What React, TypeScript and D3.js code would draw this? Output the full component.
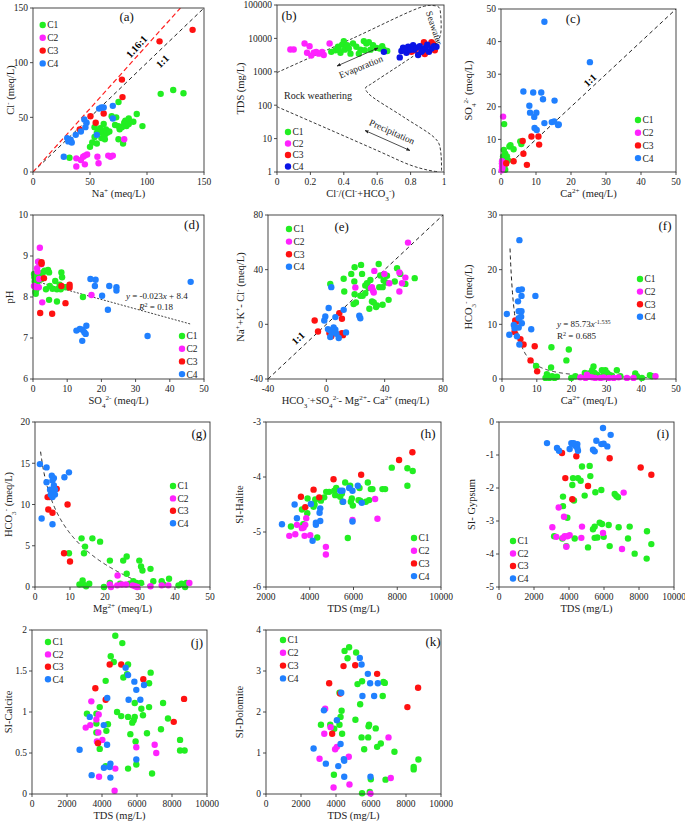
import React from "react";
import * as d3 from "d3";

type Pt = [number, number];
type Seg = [string, string?];

const FONT = "Liberation Serif, Times New Roman, serif";
const GROUPS = ["C1", "C2", "C3", "C4"];
const COLS = ["#22EE22", "#FF22FF", "#FF1111", "#2080FF"];
const COLS_B = ["#22EE22", "#FF22FF", "#FF1111", "#0A14E6"];

// ---------- (a) Na vs Cl ----------
const aC1: Pt[] = [[32,13],[50,23],[52,27],[54,32],[54,41],[56,36],[56,26],[58,37],[59,40],[60,31],[61,36],[62,44],[63,34],[64,39],[65,36],[67,37],[69,51],[72,43],[73,50],[75,42],[75,64],[75,30],[76,39],[78,41],[79,26],[80,45],[81,47],[82,42],[84,44],[84,49],[88,46],[91,53],[96,42],[112,71.5],[123,75],[132,72],[63,30]];
const aC2: Pt[] = [[38,12.5],[38,5],[42,11],[44,14],[45.5,15],[47.5,16],[45.5,7],[56.5,14],[57.5,8],[66,15],[68,14],[70,15],[80,30]];
const aC3: Pt[] = [[41,39],[50.4,51],[55,45],[62,53.5],[78,84.5],[78.5,68.5],[111,119.5],[140,130]];
const aC4: Pt[] = [[27,14],[30,31],[31,28],[33,29.5],[34,27],[37.5,34],[42,37],[45,48],[46,41],[47,45],[56,34],[58,58],[60,59],[62,59],[70,60.5],[70,49]];

// ---------- (b) Gibbs ----------
const bC1: Pt[] = [[0.325,3950],[0.35,4400],[0.365,5600],[0.38,3700],[0.39,6500],[0.40,8300],[0.405,4600],[0.42,6300],[0.43,5000],[0.44,3500],[0.455,7000],[0.475,5600],[0.50,4600],[0.52,8300],[0.525,4400],[0.535,7000],[0.55,7700],[0.56,4600],[0.575,6300],[0.595,5200],[0.615,5000],[0.63,5800],[0.64,4600],[0.66,4200],[0.37,4600],[0.49,3500]];
const bC2: Pt[] = [[0.08,4650],[0.10,4650],[0.165,7030],[0.195,5800],[0.18,3700],[0.205,3050],[0.22,3700],[0.235,3900],[0.27,3900],[0.28,3200],[0.315,7000],[0.25,3500]];
const bC3: Pt[] = [[0.805,3950],[0.825,4400],[0.865,4400],[0.88,7700],[0.885,3400],[0.925,7700],[0.935,6700],[0.945,4400]];
const bC4: Pt[] = [[0.64,3950],[0.735,2700],[0.745,4200],[0.755,5300],[0.775,3700],[0.785,5600],[0.795,4500],[0.815,6300],[0.82,4600],[0.835,5300],[0.845,3200],[0.855,5800],[0.875,4500],[0.89,5300],[0.90,6500],[0.91,3950],[0.925,5000],[0.94,5800],[0.955,5600],[0.765,4600],[0.865,3950]];
const gibbsUpper: Pt[] = [[0,950],[0.45,9860],[0.875,90000],[0.93,97000],[0.97,85000],[0.98,50000],[0.98,14000],[0.965,8800],[0.94,7500],[0.74,1640],[0.56,420],[0.53,330],[0.545,230],[0.75,47],[0.94,11],[0.97,7],[0.983,3],[0.985,1]];
const gibbsLower: Pt[] = [[0,90],[0.3,20],[0.6,4.4],[0.8,1.6],[0.9,1.15],[0.97,1.0]];

// ---------- (c) Ca vs SO4 ----------
const cC1: Pt[] = [[0.9,14.7],[0.8,6.8],[1.2,5.6],[0.6,4.8],[1.7,4.8],[2.4,7.8],[2.7,8.2],[3.6,7.0],[5.5,9.4],[5.8,8.6],[0.5,1.7],[1.0,3.3],[1.4,4.0],[1.2,0.7],[0.3,2.5],[0.8,2.2],[2.0,3.6],[0.5,3.8]];
const cC2: Pt[] = [[0.6,17.0],[0.3,2.7],[0.3,1.7],[0.4,1.2],[0.2,0.5],[0.5,2.2],[0.3,3.3]];
const cC3: Pt[] = [[8.7,10.9],[10.7,10.9],[10.9,8.4],[6.2,9.5],[6.4,5.6],[3.6,3.3],[7.4,2.2],[1.5,2.7]];
const cC4: Pt[] = [[12.4,46.1],[25.4,33.7],[6.4,24.7],[9.2,24.4],[11.5,24.4],[12.0,22.3],[15.3,21.9],[8.1,20.3],[8.3,18.2],[10.1,18.2],[9.5,16.9],[9.6,13.5],[10.2,12.9],[12.4,15.0],[14.5,15.3],[15.2,15.5],[16.5,14.6],[16.3,14.4]];

// ---------- (d) SO4 vs pH ----------
const dC1: Pt[] = [[0.3,8.56],[0.4,8.48],[0.5,8.38],[0.6,8.26],[0.7,8.13],[0.8,8.08],[1.0,8.19],[1.2,8.34],[1.4,8.43],[1.6,8.86],[2.0,8.54],[2.4,8.43],[2.9,8.60],[3.4,8.64],[3.8,8.19],[4.4,8.66],[4.7,8.60],[4.9,8.27],[4.7,7.93],[5.7,8.20],[6.5,8.39],[7.0,7.89],[7.0,8.19],[7.8,8.30],[8.1,8.19],[8.3,8.60],[8.5,8.48],[9.3,8.24],[14.6,8.0],[9.8,8.24]];
const dC2: Pt[] = [[2.0,9.20],[1.5,8.86],[1.2,8.70],[1.3,8.62],[2.4,8.80],[0.3,8.27],[1.0,8.24],[1.7,8.24],[2.7,7.87],[17.1,8.05],[1.8,8.44]];
const dC3: Pt[] = [[2.5,8.85],[2.5,8.81],[3.2,8.46],[2.1,7.61],[5.6,7.59],[8.3,8.27],[9.5,7.85],[10.7,8.30],[10.7,8.23]];
const dC4: Pt[] = [[16.8,8.44],[18.3,8.42],[18.1,8.27],[20.2,8.03],[22.3,8.27],[24.4,8.24],[24.4,8.16],[21.9,7.69],[15.6,7.30],[12.7,7.18],[13.7,7.22],[14.5,7.20],[15.0,7.14],[15.4,7.10],[14.4,6.93],[33.5,7.05],[46.1,8.37]];
const dSlope = -0.023, dIntercept = 8.4, dXmax = 46;

// ---------- (e) ----------
const eC1: Pt[] = [[2.7,29.6],[11.9,33.3],[12.3,24.0],[17.1,36.9],[19.4,41.8],[19.2,31.3],[19.4,22.1],[18.7,14.8],[20.3,16.0],[23.3,20.9],[23.8,43.5],[24.5,36.9],[24.9,20.9],[26.7,28.4],[27.9,30.1],[29.0,26.5],[29.5,11.4],[30.2,32.5],[31.3,16.7],[32.5,16.0],[34.1,12.6],[34.7,13.8],[35.9,44.2],[36.3,27.2],[37.0,35.7],[38.6,27.2],[38.6,14.3],[39.3,32.1],[40.9,30.6],[41.6,35.5],[42.7,17.9],[46.9,31.3],[48.5,41.1],[50.7,36.9],[54.2,29.6],[60.6,33.8],[26.7,22.8]];
const eC2: Pt[] = [[56.0,59.8],[19.9,26.9],[32.9,39.1],[31.3,27.2],[32.0,24.8],[32.5,23.3],[30.6,26.5],[39.8,36.9],[43.2,30.1],[50.1,37.9],[50.1,24.0],[51.9,30.1],[54.2,34.2]];
const eC3: Pt[] = [[-8.0,2.8],[-5.7,-5.2],[2.1,-6.4],[3.4,-8.8],[8.9,8.2],[10.7,4.1],[10.7,-6.4],[11.4,-7.9]];
const eC4: Pt[] = [[3.4,27.2],[1.6,11.9],[-0.7,5.8],[-1.4,2.8],[6.2,5.3],[11.9,10.6],[22.6,6.3],[23.3,4.5],[1.1,-3.5],[2.7,-4.5],[5.0,-2.3],[4.6,-5.2],[6.2,-4.0],[3.9,-5.9],[2.7,-9.3],[8.5,-10.0],[13.5,-5.9],[6.9,-6.9]];

// ---------- (f) Ca vs HCO3 ----------
const fC1: Pt[] = [[9.8,2.4],[14.2,5.8],[19.2,5.4],[18.5,3.4],[14.1,2.1],[12.9,0.9],[13.2,0.5],[13.6,0.2],[14.4,0.5],[15.1,0.2],[15.8,0.4],[12.5,0.2],[19.9,0.2],[21.1,0.5],[23.8,1.1],[24.9,1.0],[25.9,1.6],[26.3,2.3],[26.6,1.1],[27.3,0.8],[28.7,1.6],[29.2,1.2],[29.7,1.6],[30.2,1.1],[30.8,0.8],[33.0,1.6],[38.3,1.0],[38.8,0.5],[40.2,0.2],[43.1,0.5],[31.6,0.6],[34.0,0.5],[27.8,0.4],[42.5,0.7]];
const fC2: Pt[] = [[22.5,0.3],[24.0,0.2],[24.9,0.4],[25.9,0.3],[26.8,0.2],[28.3,0.2],[29.2,0.3],[30.7,0.2],[32.1,0.2],[33.5,0.3],[35.9,0.2],[37.8,0.2],[44.1,0.5],[24.4,0.8]];
const fC3: Pt[] = [[3.8,10.7],[4.3,10.5],[3.6,8.6],[5.3,7.3],[6.2,6.3],[9.4,6.0],[8.2,3.4],[10.1,1.4]];
const fC4: Pt[] = [[5.0,25.4],[1.4,11.9],[2.1,8.1],[3.4,9.9],[3.6,9.3],[4.3,7.8],[4.6,14.2],[4.8,16.3],[5.7,16.4],[5.6,15.2],[4.8,12.4],[5.6,12.4],[5.5,11.4],[5.7,10.2],[4.8,11.1],[4.8,9.4],[5.0,6.3],[8.4,9.1],[9.6,15.2]];
const fA = 85.73, fB = -1.535, fXmin = 2.3, fXmax = 44;

// ---------- (g) Mg vs HCO3 ----------
const gC1: Pt[] = [[9.7,4.1],[13.3,5.9],[14.3,4.9],[14.0,4.1],[16.4,5.9],[18.6,5.5],[21.4,3.2],[25.2,3.2],[26.2,3.7],[26.2,1.6],[29.8,3.2],[30.3,2.5],[30.7,2.0],[33.0,2.2],[12.7,0.3],[13.6,0.8],[13.8,0.3],[14.6,0.1],[15.5,0.4],[19.7,0.0],[21.4,0.5],[24.3,0.4],[27.1,0.4],[29.0,0.5],[30.3,0.5],[33.8,0.7],[36.2,0.7],[38.3,1.0],[36.7,0.3],[41.0,0.2],[41.9,0.4],[42.9,0.0],[43.3,0.5],[28.1,0.7]];
const gC2: Pt[] = [[23.6,1.4],[21.4,0.3],[21.7,0.0],[23.5,0.2],[24.8,0.3],[26.0,0.3],[27.9,0.2],[28.6,0.1],[29.2,0.0],[33.0,0.1],[36.2,0.2],[38.1,0.2],[44.1,0.5]];
const gC3: Pt[] = [[3.6,10.9],[3.8,9.4],[5.0,9.0],[6.2,11.9],[9.3,10.0],[8.3,4.1],[10.0,3.1],[4.1,10.9]];
const gC4: Pt[] = [[1.4,14.9],[3.3,14.5],[3.3,12.7],[1.9,8.3],[4.3,11.8],[4.8,13.5],[5.0,12.9],[5.4,13.2],[5.4,12.3],[5.7,11.8],[5.2,11.4],[5.7,11.2],[5.0,10.9],[5.0,7.6],[8.4,13.3],[9.7,13.9],[4.5,11.2]];
const gA = 18.94, gB = -5.4, gXmin = 1.6, gXmax = 33.3;

// ---------- (h) TDS vs SI-Halite ----------
const hC1: Pt[] = [[3141,-4.90],[3643,-4.59],[3703,-4.86],[3901,-4.39],[3886,-4.66],[4175,-4.54],[4221,-4.50],[4251,-4.41],[4342,-5.10],[4510,-4.43],[4662,-4.37],[4753,-4.27],[4890,-4.27],[5118,-4.25],[5209,-4.20],[5163,-4.33],[5392,-4.36],[5468,-4.30],[5498,-4.45],[5620,-4.10],[5741,-5.11],[5848,-4.16],[5878,-4.45],[5924,-4.39],[5970,-4.52],[6228,-4.42],[6274,-4.20],[6304,-4.43],[6563,-4.45],[6654,-4.10],[6715,-4.42],[6791,-4.22],[6867,-4.22],[7323,-4.22],[7445,-4.22],[7749,-3.83],[8464,-3.84],[8464,-4.16],[8707,-3.89]];
const hC2: Pt[] = [[3065,-5.07],[3338,-5.04],[3414,-4.87],[3643,-4.93],[3719,-4.92],[3764,-5.07],[3795,-4.87],[3840,-4.75],[4023,-5.06],[4738,-5.27],[4738,-5.41],[5954,-4.78],[6988,-4.40],[7095,-4.76]];
const hC3: Pt[] = [[3597,-4.36],[3795,-4.55],[4175,-4.23],[4434,-4.37],[5087,-4.04],[6350,-3.96],[8084,-3.69],[8692,-3.55]];
const hC4: Pt[] = [[2730,-4.86],[3308,-4.50],[3414,-4.75],[4053,-4.49],[4129,-5.16],[4281,-4.83],[4281,-4.87],[4449,-4.65],[4480,-4.57],[4480,-4.80],[5392,-4.25],[5498,-4.25],[5528,-4.45],[5802,-4.20],[5954,-4.25],[5954,-4.81],[6197,-4.16],[6380,-4.47]];

// ---------- (i) TDS vs SI-Gypsum ----------
const iC1: Pt[] = [[4743,-1.35],[5181,-1.33],[5219,-1.64],[4229,-1.70],[4514,-1.70],[4667,-1.78],[4190,-1.91],[5848,-2.06],[5505,-2.13],[4895,-2.23],[4286,-2.38],[3657,-2.26],[3657,-2.55],[3905,-2.90],[6610,-2.18],[6705,-2.24],[6800,-2.28],[5752,-3.05],[5886,-3.09],[6267,-3.12],[5467,-3.17],[5371,-3.25],[6838,-3.19],[7467,-3.17],[8457,-3.31],[3150,-3.46],[3619,-3.53],[4324,-3.53],[5467,-3.51],[5619,-3.50],[5981,-3.48],[7371,-3.53],[3848,-3.76],[5086,-3.80],[6324,-3.76],[7752,-3.99],[8705,-3.70],[8438,-4.14]];
const iC2: Pt[] = [[3048,-3.19],[3276,-3.48],[3410,-2.59],[3714,-2.87],[3657,-3.51],[3752,-3.46],[3905,-3.46],[4038,-3.43],[4743,-3.17],[4705,-3.51],[3848,-3.78],[5943,-3.36],[7029,-3.85],[7124,-2.14]];
const iC3: Pt[] = [[3600,-0.94],[4419,-1.04],[6324,-1.10],[8095,-1.38],[8705,-1.60],[3790,-1.70],[5086,-1.94],[4190,-2.34]];
const iC4: Pt[] = [[2743,-0.64],[3314,-0.79],[3429,-0.87],[4038,-0.82],[4133,-0.64],[4267,-0.64],[4362,-0.72],[4476,-0.67],[4476,-0.79],[4514,-0.87],[5371,-0.84],[5467,-0.89],[5562,-0.57],[5848,-0.67],[5981,-0.66],[5943,-0.18],[6190,-0.74],[6381,-0.39],[4190,-0.66]];

// ---------- (j) TDS vs SI-Calcite ----------
const jC1: Pt[] = [[4760,1.93],[5160,1.84],[4500,1.68],[4670,1.61],[5490,1.58],[5430,1.46],[5220,1.42],[4210,1.38],[6780,1.48],[6690,1.35],[3870,1.06],[3140,0.98],[3680,0.98],[3680,0.86],[3680,0.75],[4340,0.85],[4860,1.00],[5100,0.95],[4250,0.77],[3870,0.55],[4210,0.34],[5490,0.94],[5870,0.94],[5810,0.90],[5730,0.87],[5620,0.73],[5870,1.11],[6250,1.04],[6340,0.96],[6690,1.06],[6570,0.74],[5920,0.64],[5960,0.36],[5490,0.31],[6860,0.25],[7490,1.11],[7770,0.92],[7370,0.79],[8460,0.66],[8460,0.53],[8720,0.53]];
const jC2: Pt[] = [[3390,1.13],[3070,0.81],[3330,0.84],[3680,0.91],[3810,0.97],[3790,0.75],[3710,0.64],[4020,0.66],[3830,0.21],[4760,0.31],[4720,0.04],[5960,0.57],[7010,0.60],[7100,0.50]];
const jC3: Pt[] = [[3620,1.29],[4210,1.15],[4440,1.58],[5100,1.58],[6360,1.40],[8690,1.16],[8100,0.88],[3770,0.62]];
const jC4: Pt[] = [[5350,1.54],[5490,1.45],[5850,1.37],[5960,1.27],[6400,1.33],[6190,1.15],[5520,1.15],[4300,1.17],[4100,0.84],[3300,0.94],[2720,0.54],[4290,0.60],[5960,0.42],[4480,0.37],[4440,0.33],[4110,0.32],[3410,0.23],[4480,0.20]];

// ---------- (k) TDS vs SI-Dolomite ----------
const kC1: Pt[] = [[4750,3.58],[4490,3.49],[5150,3.45],[4660,3.31],[5490,2.75],[5230,2.68],[6710,2.73],[6790,2.71],[6670,2.39],[5380,2.19],[4320,2.03],[4260,1.88],[5110,1.81],[4200,1.69],[3140,1.69],[3670,1.69],[3900,1.59],[5890,1.69],[5860,1.65],[6270,1.60],[4350,1.47],[5460,1.38],[5840,1.38],[6560,1.23],[6350,1.15],[5610,1.09],[7340,1.03],[3880,0.47],[5990,0.36],[6830,0.35],[8440,0.66],[8440,0.60],[8710,0.84],[5490,0.02],[5930,0.05],[4200,2.47]];
const kC2: Pt[] = [[3380,2.08],[3690,1.63],[3330,1.47],[3950,1.09],[4050,1.15],[4730,0.91],[3060,0.86],[7000,1.38],[7130,0.39],[3860,0.16],[4770,0.23],[5970,0.01]];
const kC3: Pt[] = [[3610,2.70],[4240,2.45],[4430,3.12],[5100,3.14],[6350,2.93],[8690,2.59],[8080,2.12],[3780,1.47]];
const kC4: Pt[] = [[5360,3.32],[5460,3.16],[5820,2.93],[5950,2.70],[6390,2.70],[6180,2.39],[5510,2.39],[4300,2.47],[3310,2.04],[4050,1.80],[4260,1.22],[2720,1.11],[3420,0.74],[4130,0.68],[4450,0.85],[4470,0.81],[4470,0.42],[5970,0.42]];

// ---------- tick labels ----------
const t0_150 = [0, 50, 100, 150];
const t0_50 = [0, 10, 20, 30, 40, 50];
const tB_x = [0, 0.2, 0.4, 0.6, 0.8, 1];
const tB_y = [1, 10, 100, 1000, 10000, 100000];
const tD_y = [6, 7, 8, 9, 10];
const tE = [-40, 0, 40, 80];
const tF_y = [0, 10, 20, 30];
const tG_y = [0, 5, 10, 15, 20];
const tTDS_h = [2000, 4000, 6000, 8000, 10000];
const tTDS = [0, 2000, 4000, 6000, 8000, 10000];
const tH_y = [-6, -5, -4, -3];
const tI_y = [-5, -4, -3, -2, -1, 0];
const tJ_y = [0, 0.5, 1, 1.5, 2];
const tK_y = [0, 1, 2, 3, 4];

const R = 3.2;

function Rich({ segs }: { segs: Seg[] }) {
  return (
    <>
      {segs.map((s, i) =>
        s[1] === "sup" ? (
          <tspan key={i} baselineShift="super" fontSize="68%">{s[0]}</tspan>
        ) : s[1] === "sub" ? (
          <tspan key={i} baselineShift="sub" fontSize="68%">{s[0]}</tspan>
        ) : s[1] === "i" ? (
          <tspan key={i} fontStyle="italic">{s[0]}</tspan>
        ) : (
          <tspan key={i}>{s[0]}</tspan>
        )
      )}
    </>
  );
}

type Box = { l: number; t: number; r: number; b: number };

function Panel(props: {
  box: Box; xDom: [number, number]; yDom: [number, number]; yLog?: boolean;
  xTicks: number[]; yTicks: number[]; series: Pt[][]; colors?: string[];
  xLabel: Seg[]; yLabel: Seg[]; yLabelX: number; letter: string; letterPos: [number, number];
  legend: { x: number; y: number; dy: number };
  under?: (x: any, y: any) => React.ReactNode; over?: (x: any, y: any) => React.ReactNode;
  id: string;
}) {
  const { box, xDom, yDom, yLog, xTicks, yTicks, series, xLabel, yLabel, yLabelX, letter, letterPos, legend, under, over, id } = props;
  const colors = props.colors || COLS;
  const x = d3.scaleLinear().domain(xDom).range([box.l, box.r]);
  const y: any = yLog ? d3.scaleLog().domain(yDom).range([box.b, box.t]) : d3.scaleLinear().domain(yDom).range([box.b, box.t]);
  const cx = (box.l + box.r) / 2, cy = (box.t + box.b) / 2;
  return (
    <g fontFamily={FONT}>
      <defs>
        <clipPath id={"clip-" + id}>
          <rect x={box.l} y={box.t} width={box.r - box.l} height={box.b - box.t} />
        </clipPath>
      </defs>
      {xTicks.map((v) => (
        <g key={"xt" + v}>
          <line x1={x(v)} x2={x(v)} y1={box.b} y2={box.b + 3} stroke="#222" strokeWidth={0.8} />
          <text x={x(v)} y={box.b + 13} fontSize={9.5} textAnchor="middle" fill="#222">{String(v)}</text>
        </g>
      ))}
      {yTicks.map((v) => (
        <g key={"yt" + v}>
          <line x1={box.l - 3} x2={box.l} y1={y(v)} y2={y(v)} stroke="#222" strokeWidth={0.8} />
          <text x={box.l - 5} y={y(v) + 3.3} fontSize={9.5} textAnchor="end" fill="#222">{String(v)}</text>
        </g>
      ))}
      <g clipPath={`url(#clip-${id})`}>{under && under(x, y)}</g>
      {series.map((pts, gi) =>
        pts.map((p, i) => <circle key={gi + "-" + i} cx={x(p[0])} cy={y(p[1])} r={R} fill={colors[gi]} />)
      )}
      {over && over(x, y)}
      <rect x={box.l} y={box.t} width={box.r - box.l} height={box.b - box.t} fill="none" stroke="#333" strokeWidth={0.9} />
      {GROUPS.map((g, gi) => (
        <g key={g}>
          <circle cx={legend.x} cy={legend.y + gi * legend.dy} r={R} fill={colors[gi]} />
          <text x={legend.x + 4.5} y={legend.y + gi * legend.dy + 3.4} fontSize={9.5} fill="#222">{g}</text>
        </g>
      ))}
      <text x={letterPos[0]} y={letterPos[1] + 4.5} fontSize={13} textAnchor="middle" fill="#111">{letter}</text>
      <text x={cx} y={box.b + 25} fontSize={10.5} textAnchor="middle" fill="#222"><Rich segs={xLabel} /></text>
      <text transform={`translate(${yLabelX},${cy}) rotate(-90)`} x={0} y={3.5} fontSize={10.5} textAnchor="middle" fill="#222"><Rich segs={yLabel} /></text>
    </g>
  );
}

function angleOf(x: any, y: any, p0: Pt, p1: Pt) {
  return (Math.atan2(y(p1[1]) - y(p0[1]), x(p1[0]) - x(p0[0])) * 180) / Math.PI;
}

export default function App() {
  const unitLabel: Seg[] = [[" (meq/L)"]];
  const tdsLabel: Seg[] = [["TDS (mg/L)"]];
  const hco3: Seg[] = [["HCO"], ["3", "sub"], ["-", "sup"], [" (meq/L)"]];
  const ca: Seg[] = [["Ca"], ["2+", "sup"], [" (meq/L)"]];
  const so4: Seg[] = [["SO"], ["4", "sub"], ["2-", "sup"], [" (meq/L)"]];
  const lineGen = (x: any, y: any) => d3.line<Pt>().x((d) => x(d[0])).y((d) => y(d[1]));
  return (
    <svg width={685} height={821} fontFamily={FONT} style={{ position: "absolute", left: 0, top: 0, background: "#fff" }}>
      <defs>
        <marker id="arr" viewBox="0 0 10 10" refX={9} refY={5} markerWidth={5} markerHeight={5} orient="auto-start-reverse">
          <path d="M0,1 L10,5 L0,9 z" fill="#222" />
        </marker>
      </defs>
      <rect width={685} height={821} fill="#fff" />

      {/* (a) */}
      <Panel id="a" box={{ l: 33, t: 8, r: 204, b: 172 }} xDom={[0, 150]} yDom={[0, 150]} xTicks={t0_150} yTicks={t0_150}
        series={[aC1, aC2, aC3, aC4]} xLabel={[["Na"], ["+", "sup"], ...unitLabel]} yLabel={[["Cl"], ["-", "sup"], ...unitLabel]}
        yLabelX={10} letter="(a)" letterPos={[126.7, 16.7]} legend={{ x: 42.7, y: 25, dy: 12.8 }}
        under={(x, y) => (
          <>
            <line x1={x(0)} y1={y(0)} x2={x(150)} y2={y(150)} stroke="#222" strokeWidth={1} strokeDasharray="4,3" />
            <line x1={x(0)} y1={y(0)} x2={x(150 / 1.16)} y2={y(150)} stroke="#FF2020" strokeWidth={1.2} strokeDasharray="5,3" />
          </>
        )}
        over={(x, y) => (
          <>
            <text transform={`translate(${x(90.8)},${y(114.7)}) rotate(${angleOf(x, y, [0, 0], [100, 116])})`} fontSize={10} fontWeight="bold" textAnchor="middle" y={3.5}>1.16:1</text>
            <text transform={`translate(${x(113.4)},${y(101.3)}) rotate(${angleOf(x, y, [0, 0], [100, 100])})`} fontSize={10} fontWeight="bold" textAnchor="middle" y={3.5}>1:1</text>
          </>
        )}
      />

      {/* (b) */}
      <Panel id="b" box={{ l: 277, t: 5, r: 444, b: 172 }} xDom={[0, 1]} yDom={[1, 100000]} yLog xTicks={tB_x} yTicks={tB_y}
        series={[bC1, bC2, bC3, bC4]} colors={COLS_B}
        xLabel={[["Cl"], ["-", "sup"], ["/(Cl"], ["-", "sup"], ["+HCO"], ["3", "sub"], ["-", "sup"], [")"]]} yLabel={tdsLabel}
        yLabelX={240} letter="(b)" letterPos={[289, 15]} legend={{ x: 288, y: 132, dy: 11.5 }}
        under={(x, y) => {
          const lg = d3.line<Pt>().x((d) => x(d[0])).y((d) => y(d[1])).curve(d3.curveCatmullRom.alpha(0.5));
          return (
            <>
              <path d={lg(gibbsUpper) || ""} fill="none" stroke="#222" strokeWidth={0.9} strokeDasharray="3,2" />
              <path d={lg(gibbsLower) || ""} fill="none" stroke="#222" strokeWidth={0.9} strokeDasharray="3,2" />
            </>
          );
        }}
        over={() => (
          <g fontSize={9.5} fill="#222">
            <text transform="translate(434,28) rotate(72)" textAnchor="middle" y={3}>Seawater</text>
            <line x1={337} y1={66} x2={378} y2={48} stroke="#222" strokeWidth={0.8} markerStart="url(#arr)" markerEnd="url(#arr)" />
            <text transform="translate(361,67) rotate(-22)" textAnchor="middle" y={3}>Evaporation</text>
            <text x={318} y={99} textAnchor="middle" fontSize={10}>Rock weathering</text>
            <line x1={365} y1={130.5} x2={410} y2={150.5} stroke="#222" strokeWidth={0.8} markerStart="url(#arr)" markerEnd="url(#arr)" />
            <text transform="translate(392,132) rotate(24)" textAnchor="middle" y={3}>Precipitation</text>
          </g>
        )}
      />

      {/* (c) */}
      <Panel id="c" box={{ l: 501, t: 9, r: 676, b: 172 }} xDom={[0, 50]} yDom={[0, 50]} xTicks={t0_50} yTicks={t0_50}
        series={[cC1, cC2, cC3, cC4]} xLabel={ca} yLabel={so4}
        yLabelX={468} letter="(c)" letterPos={[573, 18]} legend={{ x: 638, y: 120, dy: 12.7 }}
        under={(x, y) => <line x1={x(0)} y1={y(0)} x2={x(50)} y2={y(50)} stroke="#222" strokeWidth={1} strokeDasharray="4,3" />}
        over={(x, y) => (
          <text transform={`translate(${x(25.4)},${y(28.2)}) rotate(${angleOf(x, y, [0, 0], [50, 50])})`} fontSize={10} fontWeight="bold" textAnchor="middle" y={3.5}>1:1</text>
        )}
      />

      {/* (d) */}
      <Panel id="d" box={{ l: 33, t: 215, r: 204, b: 379 }} xDom={[0, 50]} yDom={[6, 10]} xTicks={t0_50} yTicks={tD_y}
        series={[dC1, dC2, dC3, dC4]} xLabel={so4} yLabel={[["pH"]]}
        yLabelX={9} letter="(d)" letterPos={[191.7, 224]} legend={{ x: 182, y: 336, dy: 12.7 }}
        under={(x, y) => (
          <line x1={x(0)} y1={y(dIntercept)} x2={x(dXmax)} y2={y(dIntercept + dSlope * dXmax)} stroke="#444" strokeWidth={1} strokeDasharray="2,1.5" />
        )}
        over={() => (
          <g fontSize={9} fill="#222">
            <text x={126} y={299}><tspan fontStyle="italic">y</tspan><tspan> = -0.023</tspan><tspan fontStyle="italic">x</tspan><tspan> + 8.4</tspan></text>
            <text x={139} y={309.5}><tspan fontStyle="italic">R</tspan><tspan baselineShift="super" fontSize="68%">2</tspan><tspan> = 0.18</tspan></text>
          </g>
        )}
      />

      {/* (e) */}
      <Panel id="e" box={{ l: 268, t: 215, r: 443, b: 379 }} xDom={[-40, 80]} yDom={[-40, 80]} xTicks={tE} yTicks={tE}
        series={[eC1, eC2, eC3, eC4]}
        xLabel={[["HCO"], ["3", "sub"], ["-", "sup"], ["+SO"], ["4", "sub"], ["2-", "sup"], ["- Mg"], ["2+", "sup"], ["- Ca"], ["2+", "sup"], [" (meq/L)"]]}
        yLabel={[["Na"], ["+", "sup"], ["+K"], ["+", "sup"], ["- Cl"], ["-", "sup"], [" (meq/L)"]]}
        yLabelX={240} letter="(e)" letterPos={[341.7, 226.7]} legend={{ x: 289, y: 229, dy: 12.6 }}
        under={(x, y) => <line x1={x(-40)} y1={y(-40)} x2={x(80)} y2={y(80)} stroke="#222" strokeWidth={1} strokeDasharray="4,3" />}
        over={(x, y) => (
          <text transform={`translate(${x(-19.4)},${y(-10.1)}) rotate(${angleOf(x, y, [0, 0], [50, 50])})`} fontSize={10} fontWeight="bold" textAnchor="middle" y={3.5}>1:1</text>
        )}
      />

      {/* (f) */}
      <Panel id="f" box={{ l: 502, t: 215, r: 676, b: 379 }} xDom={[0, 50]} yDom={[0, 30]} xTicks={t0_50} yTicks={tF_y}
        series={[fC1, fC2, fC3, fC4]} xLabel={ca} yLabel={hco3}
        yLabelX={468} letter="(f)" letterPos={[665, 225]} legend={{ x: 640, y: 279, dy: 12.6 }}
        under={(x, y) => {
          const pts: Pt[] = d3.range(fXmin, fXmax, 0.1).concat([fXmax]).map((v) => [v, fA * Math.pow(v, fB)] as Pt);
          return <path d={lineGen(x, y)(pts) || ""} fill="none" stroke="#222" strokeWidth={1} strokeDasharray="4,3" />;
        }}
        over={() => (
          <g fontSize={9} fill="#222">
            <text x={557} y={327}><tspan fontStyle="italic">y</tspan> = 85.73<tspan fontStyle="italic">x</tspan><tspan baselineShift="super" fontSize="68%">-1.535</tspan></text>
            <text x={557} y={339}>R<tspan baselineShift="super" fontSize="68%">2</tspan><tspan> = 0.685</tspan></text>
          </g>
        )}
      />

      {/* (g) */}
      <Panel id="g" box={{ l: 35, t: 422, r: 210, b: 587 }} xDom={[0, 50]} yDom={[0, 20]} xTicks={t0_50} yTicks={tG_y}
        series={[gC1, gC2, gC3, gC4]} xLabel={[["Mg"], ["2+", "sup"], [" (meq/L)"]]} yLabel={hco3}
        yLabelX={8} letter="(g)" letterPos={[199, 433]} legend={{ x: 173, y: 486, dy: 12.4 }}
        under={(x, y) => {
          const pts: Pt[] = d3.range(gXmin, gXmax, 0.1).concat([gXmax]).map((v) => [v, gA + gB * Math.log(v)] as Pt);
          return <path d={lineGen(x, y)(pts) || ""} fill="none" stroke="#222" strokeWidth={1} strokeDasharray="4,3" />;
        }}
      />

      {/* (h) */}
      <Panel id="h" box={{ l: 266, t: 422, r: 441, b: 587 }} xDom={[2000, 10000]} yDom={[-6, -3]} xTicks={tTDS_h} yTicks={tH_y}
        series={[hC1, hC2, hC3, hC4]} xLabel={tdsLabel} yLabel={[["SI-Halite"]]}
        yLabelX={239} letter="(h)" letterPos={[428, 433]} legend={{ x: 414, y: 538, dy: 12.7 }}
      />

      {/* (i) */}
      <Panel id="i" box={{ l: 499, t: 422, r: 674, b: 587 }} xDom={[0, 10000]} yDom={[-5, 0]} xTicks={tTDS} yTicks={tI_y}
        series={[iC1, iC2, iC3, iC4]} xLabel={tdsLabel} yLabel={[["SI- Gypsum"]]}
        yLabelX={471} letter="(i)" letterPos={[663, 433]} legend={{ x: 513, y: 541, dy: 12.5 }}
      />

      {/* (j) */}
      <Panel id="j" box={{ l: 32, t: 630, r: 207, b: 794 }} xDom={[0, 10000]} yDom={[0, 2]} xTicks={tTDS} yTicks={tJ_y}
        series={[jC1, jC2, jC3, jC4]} xLabel={tdsLabel} yLabel={[["SI-Calcite"]]}
        yLabelX={8} letter="(j)" letterPos={[197, 642]} legend={{ x: 48, y: 642, dy: 12.4 }}
      />

      {/* (k) */}
      <Panel id="k" box={{ l: 266, t: 630, r: 441, b: 794 }} xDom={[0, 10000]} yDom={[0, 4]} xTicks={tTDS} yTicks={tK_y}
        series={[kC1, kC2, kC3, kC4]} xLabel={tdsLabel} yLabel={[["SI-Dolomite"]]}
        yLabelX={239} letter="(k)" letterPos={[433, 641]} legend={{ x: 283, y: 640, dy: 12.8 }}
      />
    </svg>
  );
}
